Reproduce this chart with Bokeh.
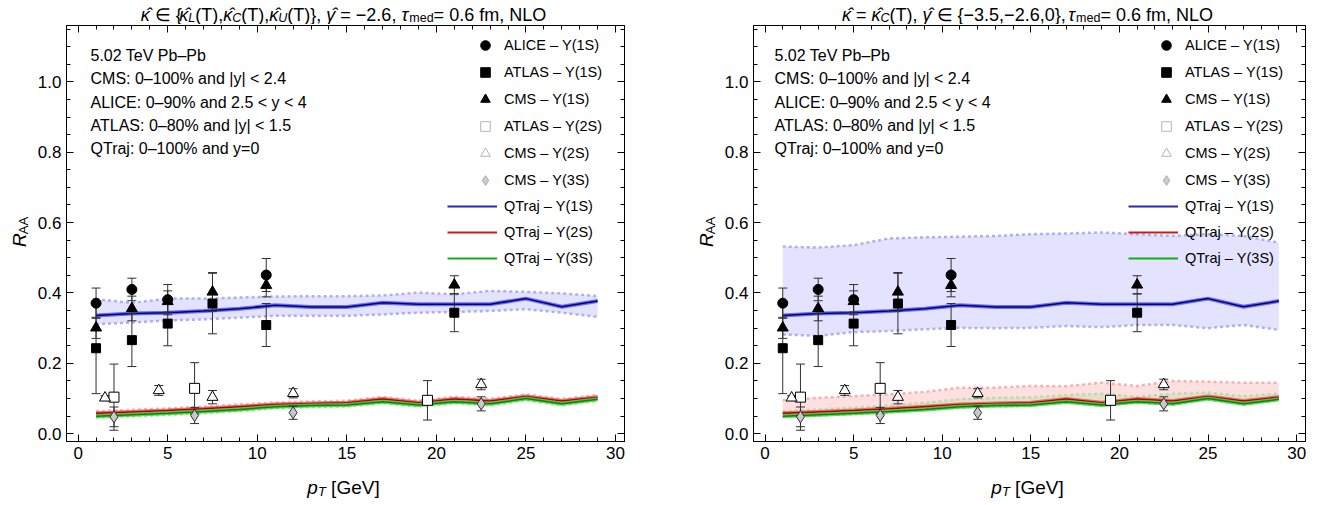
import numpy as np
from bokeh.plotting import figure
from bokeh.models import (ColumnDataSource, Label, Legend, LegendItem, LinearAxis,
                          SingleIntervalTicker, Range1d, PrintfTickFormatter,
                          CustomJSTickFormatter)
from bokeh.layouts import row, column
from bokeh.embed import file_html
from bokeh.resources import INLINE

FONT = "Liberation Sans"

# ---------------- experimental data ----------------
pt_alice_1s = [1, 3, 5, 10.5]
raa_alice_1s = [0.371, 0.410, 0.381, 0.451]
err_alice_1s = [0.043, 0.032, 0.043, 0.047]

pt_cms_1s = [1, 3, 5, 7.5, 10.5, 21]
raa_cms_1s = [0.301, 0.356, 0.376, 0.403, 0.422, 0.423]
err_cms_1s = [0.030, 0.035, 0.030, 0.055, 0.033, 0.026]

pt_atlas_1s = [1, 3, 5, 7.5, 10.5, 21]
raa_atlas_1s = [0.243, 0.266, 0.313, 0.370, 0.309, 0.344]
err_atlas_1s = [0.129, 0.075, 0.063, 0.086, 0.061, 0.054]

pt_atlas_2s = [2, 6.5, 19.5]
raa_atlas_2s = [0.104, 0.129, 0.095]
err_atlas_2s = [0.094, 0.073, 0.056]

pt_cms_2s = [1.5, 4.5, 7.5, 12, 22.5]
raa_cms_2s = [0.102, 0.123, 0.104, 0.115, 0.140]
err_cms_2s = [0.006, 0.014, 0.019, 0.013, 0.015]

pt_cms_3s = [2, 6.5, 12, 22.5]
raa_cms_3s = [0.048, 0.052, 0.060, 0.085]
err_cms_3s = [0.028, 0.023, 0.019, 0.020]

# ---------------- QTraj curves ----------------
pt_th = [1, 3, 5, 7, 9, 11, 13, 15, 17, 19, 21, 23, 25, 27, 29]
qtraj_1s = [0.336, 0.342, 0.344, 0.349, 0.355, 0.365, 0.360, 0.360, 0.372, 0.368, 0.368, 0.368, 0.384, 0.361, 0.377]
qtraj_2s = [0.058, 0.062, 0.066, 0.071, 0.077, 0.083, 0.086, 0.088, 0.099, 0.088, 0.099, 0.093, 0.106, 0.093, 0.104]
qtraj_3s = [0.050, 0.054, 0.058, 0.063, 0.069, 0.077, 0.080, 0.082, 0.091, 0.082, 0.091, 0.085, 0.100, 0.085, 0.098]

# left panel bands (kappa variation)
left_1s_hi = [0.382, 0.372, 0.384, 0.384, 0.387, 0.390, 0.391, 0.391, 0.393, 0.401, 0.396, 0.406, 0.403, 0.399, 0.391]
left_1s_lo = [0.311, 0.316, 0.322, 0.325, 0.330, 0.335, 0.335, 0.335, 0.339, 0.344, 0.346, 0.349, 0.354, 0.344, 0.332]
left_2s_hi = [0.064, 0.068, 0.072, 0.077, 0.083, 0.089, 0.092, 0.094, 0.105, 0.094, 0.105, 0.099, 0.112, 0.099, 0.110]
left_2s_lo = [0.054, 0.058, 0.062, 0.067, 0.073, 0.079, 0.082, 0.084, 0.095, 0.084, 0.095, 0.089, 0.102, 0.089, 0.100]
left_3s_hi = [0.055, 0.059, 0.063, 0.068, 0.074, 0.082, 0.085, 0.087, 0.096, 0.087, 0.096, 0.090, 0.105, 0.090, 0.103]
left_3s_lo = [0.045, 0.049, 0.053, 0.058, 0.064, 0.072, 0.075, 0.077, 0.086, 0.077, 0.086, 0.080, 0.095, 0.080, 0.093]

# right panel bands (gamma variation)
right_1s_hi = [0.532, 0.529, 0.536, 0.555, 0.558, 0.560, 0.562, 0.567, 0.569, 0.572, 0.567, 0.562, 0.567, 0.562, 0.543]
right_1s_lo = [0.282, 0.278, 0.289, 0.292, 0.297, 0.301, 0.300, 0.301, 0.306, 0.303, 0.309, 0.309, 0.300, 0.309, 0.295]
right_2s_hi = [0.095, 0.102, 0.107, 0.112, 0.119, 0.131, 0.131, 0.136, 0.135, 0.145, 0.136, 0.150, 0.148, 0.145, 0.145]
right_2s_lo = [0.055, 0.059, 0.063, 0.068, 0.074, 0.080, 0.083, 0.085, 0.096, 0.085, 0.096, 0.090, 0.103, 0.090, 0.101]
right_3s_hi = [0.064, 0.069, 0.074, 0.080, 0.088, 0.098, 0.102, 0.104, 0.110, 0.114, 0.105, 0.114, 0.117, 0.107, 0.114]
right_3s_lo = [0.047, 0.051, 0.055, 0.060, 0.066, 0.074, 0.077, 0.079, 0.088, 0.079, 0.088, 0.082, 0.097, 0.082, 0.095]

annotation_lines = [
    "5.02 TeV Pb\u2013Pb",
    "CMS: 0\u2013100% and |y| < 2.4",
    "ALICE: 0\u201390% and 2.5 < y < 4",
    "ATLAS:  0\u201380% and |y| < 1.5",
    "QTraj:  0\u2013100% and y=0",
]

marker_legend = [
    ("ALICE \u2013 \u03a5(1S)", "circle", "black", "black"),
    ("ATLAS \u2013 \u03a5(1S)", "square", "black", "black"),
    ("CMS \u2013 \u03a5(1S)", "triangle", "black", "black"),
    ("ATLAS \u2013 \u03a5(2S)", "square", "white", "#b4b4b4"),
    ("CMS \u2013 \u03a5(2S)", "triangle", "white", "#b4b4b4"),
    ("CMS \u2013 \u03a5(3S)", "diamond", "#cccccc", "#a8a8a8"),
]
line_legend = [
    ("QTraj \u2013 \u03a5(1S)", "#2828b4"),
    ("QTraj \u2013 \u03a5(2S)", "#cc1a1a"),
    ("QTraj \u2013 \u03a5(3S)", "#18aa18"),
]

HAT = "\u0302"
title_left = [("\u03ba" + HAT, "it"), (" \u2208 {", "n"), ("\u03ba" + HAT, "it"), ("L", "subit"),
              ("(T),", "n"), ("\u03ba" + HAT, "it"), ("C", "subit"), ("(T),", "n"),
              ("\u03ba" + HAT, "it"), ("U", "subit"), ("(T)}, ", "n"), ("\u03b3" + HAT, "it"),
              (" = \u22122.6, ", "n"), ("\u03c4", "it"), ("med", "sub"), ("= 0.6 fm, NLO", "n")]
title_right = [("\u03ba" + HAT, "it"), (" = ", "n"), ("\u03ba" + HAT, "it"), ("C", "subit"),
               ("(T), ", "n"), ("\u03b3" + HAT, "it"), (" \u2208 {\u22123.5,\u22122.6,0}, ", "n"),
               ("\u03c4", "it"), ("med", "sub"), ("= 0.6 fm, NLO", "n")]
xlabel_pieces = [("p", "it"), ("T", "subit"), (" [GeV]", "n")]

# ---------------- layout constants ----------------
X_RANGE = (-0.65, 30.5)
Y_RANGE = (-0.022, 1.16)
FRAME_H = 416
TITLE_H = 24
MAIN_BOTTOM = 26
MAIN_H = 1 + FRAME_H + MAIN_BOTTOM
XLAB_H = 505 - TITLE_H - MAIN_H
YLAB_W = 34
MAIN_LEFT = 30
EB = "#303030"

W = {' ': 278, '{': 334, '}': 334, '(': 333, ')': 333, ',': 278, '.': 278, '=': 584, '\u2212': 584,
     'T': 611, 'L': 556, 'C': 722, 'U': 722, 'N': 722, 'O': 778, 'f': 278, 'm': 833, 'e': 556,
     'd': 556, '\u03ba': 500, '\u03b3': 500, '\u03c4': 440, '\u2208': 750, HAT: 0,
     '[': 278, ']': 278, 'G': 778, 'V': 667, 'p': 556, 'A': 667, 'R': 722}


def tw(s, size):
    return sum(W.get(c, 556) for c in s) / 1000.0 * size


def style_axis(ax, show):
    ax.axis_line_color = "black"
    ax.axis_line_width = 1
    ax.major_tick_in = 7
    ax.major_tick_out = 0
    ax.minor_tick_in = 4
    ax.minor_tick_out = 0
    ax.major_tick_line_color = "black"
    ax.minor_tick_line_color = "black"
    ax.major_label_text_font = FONT
    ax.major_label_text_color = "black"
    if show:
        ax.major_label_text_font_size = "17px"
        ax.major_label_standoff = 5
    else:
        ax.formatter = CustomJSTickFormatter(code="return ''")
        ax.major_label_text_font_size = "1px"
        ax.major_label_standoff = 0


def text_fig(w, h):
    """A bare canvas (frame = whole figure, pixel data units) for hand-set labels."""
    p = figure(width=w, height=h, x_range=Range1d(0, w), y_range=Range1d(0, h),
               x_axis_type=None, y_axis_type=None, title=None,
               output_backend="svg", toolbar_location=None,
               min_border=0, min_border_left=0, min_border_right=0, min_border_top=0, min_border_bottom=0,
               background_fill_color="white", border_fill_color="white")
    p.outline_line_color = None
    return p


def put_pieces(p, pieces, size, sub_size, xc, y, drop):
    def sz(kind):
        return sub_size if kind.startswith("sub") else size
    total = sum(tw(t, sz(k)) for t, k in pieces)
    off = -total / 2
    for t, k in pieces:
        s = sz(k)
        stripped = t.lstrip(' ')
        off += (len(t) - len(stripped)) * 0.278 * s
        txt = stripped.rstrip(' ')
        if txt:
            p.add_layout(Label(x=xc, y=y, x_offset=off, y_offset=-(drop if k.startswith("sub") else 0),
                               text=txt, text_font=FONT, text_font_size=f"{s}px",
                               text_font_style="italic" if "it" in k else "normal",
                               text_color="black", text_align="left", text_baseline="alphabetic"))
        off += tw(stripped, s)


def make_fig(frame_w, border_r):
    p = figure(frame_width=frame_w, frame_height=FRAME_H,
               x_range=Range1d(*X_RANGE), y_range=Range1d(*Y_RANGE),
               x_axis_type=None, y_axis_type=None, title=None,
               output_backend="svg", toolbar_location=None,
               min_border_left=MAIN_LEFT, min_border_right=border_r,
               min_border_top=1, min_border_bottom=MAIN_BOTTOM,
               background_fill_color="white", border_fill_color="white")
    p.outline_line_color = "black"
    p.outline_line_width = 1
    p.outline_line_alpha = 1
    for side in ["below", "above"]:
        ax = LinearAxis(ticker=SingleIntervalTicker(interval=5, num_minor_ticks=5))
        style_axis(ax, side == "below")
        p.add_layout(ax, side)
    for side in ["left", "right"]:
        ax = LinearAxis(ticker=SingleIntervalTicker(interval=0.2, num_minor_ticks=4),
                        formatter=PrintfTickFormatter(format="%.1f"))
        style_axis(ax, side == "left")
        p.add_layout(ax, side)
    return p


def draw_band(p, lo, hi, color, fill_alpha, edge):
    src = ColumnDataSource(dict(x=pt_th, lo=lo, hi=hi))
    p.varea(x="x", y1="lo", y2="hi", source=src, fill_color=color, fill_alpha=fill_alpha)
    for col in ("lo", "hi"):
        p.line("x", col, source=src, line_color=edge, line_alpha=0.75, line_width=2.5, line_dash="3 3")


def draw_curve(p, y, outer, inner):
    p.line(pt_th, y, line_color=outer, line_width=4, line_alpha=0.85)
    p.line(pt_th, y, line_color=inner, line_width=1.5)


SERIES = [
    (pt_atlas_1s, raa_atlas_1s, err_atlas_1s, "square", 9, "black", "black"),
    (pt_cms_1s, raa_cms_1s, err_cms_1s, "triangle", 11, "black", "black"),
    (pt_alice_1s, raa_alice_1s, err_alice_1s, "circle", 10, "black", "black"),
    (pt_atlas_2s, raa_atlas_2s, err_atlas_2s, "square", 10, "white", "black"),
    (pt_cms_2s, raa_cms_2s, err_cms_2s, "triangle", 11, "white", "black"),
    (pt_cms_3s, raa_cms_3s, err_cms_3s, "diamond", 12, "#c8c8c8", "#303030"),
]


def draw_data(p):
    srcs = []
    for x, y, e, m, s, f, l in SERIES:
        src = ColumnDataSource(dict(x=x, y=y, lo=[a - b for a, b in zip(y, e)], hi=[a + b for a, b in zip(y, e)]))
        srcs.append(src)
        p.segment(x0="x", y0="lo", x1="x", y1="hi", source=src, line_color=EB, line_width=1)
        p.scatter("x", "lo", source=src, marker="dash", size=9, line_color=EB, line_width=1)
        p.scatter("x", "hi", source=src, marker="dash", size=9, line_color=EB, line_width=1)
    for src, (x, y, e, m, s, f, l) in zip(srcs, SERIES):
        p.scatter("x", "y", source=src, marker=m, size=s, fill_color=f, line_color=l, line_width=1)


def add_legends(p, x_mark, x_line):
    items = []
    for lab, m, f, l in marker_legend:
        r = p.scatter(x=np.array([np.nan]), y=np.array([np.nan]), marker=m, fill_color=f, line_color=l, line_width=1)
        items.append(LegendItem(label=lab, renderers=[r]))
    leg1 = Legend(items=items, location=(x_mark, 249), glyph_width=24, glyph_height=24,
                  label_height=24, spacing=3, label_standoff=7, padding=0, margin=0)
    items2 = []
    for lab, c in line_legend:
        r = p.line(x=np.array([np.nan]), y=np.array([np.nan]), line_color=c, line_width=2)
        items2.append(LegendItem(label=lab, renderers=[r]))
    leg2 = Legend(items=items2, location=(x_line, 173), glyph_width=50, glyph_height=20,
                  label_height=20, spacing=6, label_standoff=7, padding=0, margin=0)
    for lg in (leg1, leg2):
        lg.border_line_color = None
        lg.background_fill_alpha = 0
        lg.label_text_font = FONT
        lg.label_text_font_size = "14.5px"
        lg.label_text_color = "black"
        p.add_layout(lg)


def add_annotations(p, ann_x):
    for i, txt in enumerate(annotation_lines):
        p.add_layout(Label(x=X_RANGE[0], y=Y_RANGE[1], x_offset=ann_x, y_offset=-(30 + 23.3 * i),
                           text=txt, text_font=FONT, text_font_size="16px", text_color="black",
                           text_align="left", text_baseline="middle"))


def build_panel(frame_w, border_r, lo1, hi1, lo2, hi2, lo3, hi3, a3, title, ann_x):
    main = make_fig(frame_w, border_r)
    draw_band(main, lo1, hi1, "#0000ff", 0.11, "#9a9ae6")
    draw_band(main, lo2, hi2, "#ff0000", 0.12, "#e8a0a0")
    draw_band(main, lo3, hi3, "#00cc00", a3, "#a0dca0")
    draw_curve(main, qtraj_1s, "#5a5ae0", "#00008c")
    draw_curve(main, qtraj_2s, "#e06060", "#b00000")
    draw_curve(main, qtraj_3s, "#50c850", "#008a00")
    draw_data(main)
    add_legends(main, frame_w - 151, frame_w - 177)
    add_annotations(main, ann_x)

    total_w = YLAB_W + MAIN_LEFT + frame_w + border_r
    frame_cx = YLAB_W + MAIN_LEFT + frame_w / 2

    ttl = text_fig(total_w, TITLE_H)
    put_pieces(ttl, title, 18, 12.5, frame_cx, 10, 3)

    ylab = text_fig(YLAB_W, MAIN_H)
    ylab.add_layout(Label(x=19, y=MAIN_H - 236, angle=np.pi / 2,
                          text="R", text_font=FONT, text_font_size="19px", text_font_style="italic",
                          text_align="left", text_baseline="alphabetic", text_color="black"))
    ylab.add_layout(Label(x=23, y=MAIN_H - 236 + tw("R", 19), angle=np.pi / 2,
                          text="AA", text_font=FONT, text_font_size="13px",
                          text_align="left", text_baseline="alphabetic", text_color="black"))

    xlab = text_fig(total_w, XLAB_H)
    put_pieces(xlab, xlabel_pieces, 19, 13, frame_cx, XLAB_H - 20, 4)

    return column(ttl, row(ylab, main), xlab)


left_panel = build_panel(558, 63, left_1s_lo, left_1s_hi, left_2s_lo, left_2s_hi,
                         left_3s_lo, left_3s_hi, 0.12, title_left, 24)
right_panel = build_panel(552, 29, right_1s_lo, right_1s_hi, right_2s_lo, right_2s_hi,
                          right_3s_lo, right_3s_hi, 0.10, title_right, 21)

page = row(left_panel, right_panel)
open("out.html", "w").write(file_html(page, INLINE))
